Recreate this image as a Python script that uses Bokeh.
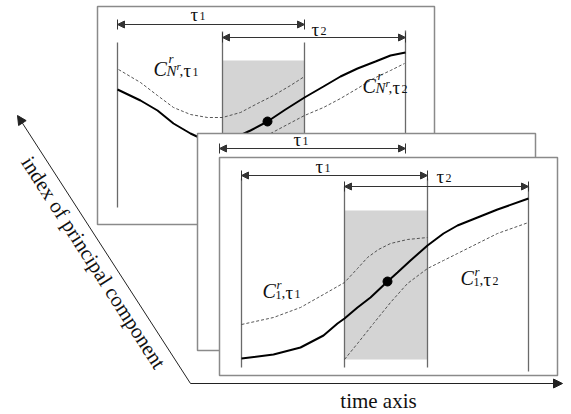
import numpy as np
from bokeh.plotting import figure
from bokeh.models import Range1d, Arrow, NormalHead, ColumnDataSource
from bokeh.core.properties import value
from bokeh.embed import file_html
from bokeh.resources import INLINE

W, H = 571, 414
SERIF = value("Liberation Serif")

# ---- panels (back, middle, front): left, right, top, bottom in page pixels
panel_left = [97, 197, 219]
panel_right = [434, 535, 557]
panel_top = [6, 133, 157]
panel_bottom = [224, 350, 375]

# ---- back panel (principal component N^r)
b_solid_x = [117, 140, 157, 173, 190, 205, 222, 235, 250, 267, 285, 304, 323, 340, 357, 375, 390, 405]
b_solid_y = [89, 100, 110, 123, 133, 140, 141, 137, 130, 121, 109, 97, 86, 76, 68, 61, 55, 52]
b_dash1_x = [118, 140, 157, 173, 190, 207, 222, 240, 257, 273, 290, 304]
b_dash1_y = [69, 82, 95, 107, 114, 117, 117, 112, 103, 95, 85, 76]
b_dash2_x = [222, 250, 270, 304, 323, 340, 357, 373, 390, 404]
b_dash2_y = [160, 145, 133, 115, 107, 98, 88, 78, 70, 63]
b_dot = (267, 121)

# ---- front panel (principal component 1)
f_solid_x = [241, 273, 300, 323, 337, 344, 357, 370, 387, 397, 410, 427, 443, 457, 477, 497, 528]
f_solid_y = [358, 354, 347, 335, 323, 318, 307, 297, 281, 272, 260, 245, 233, 225, 217, 209, 198]
f_dash1_x = [241, 273, 300, 323, 344, 357, 367, 378, 390, 407, 427]
f_dash1_y = [324, 317, 307, 294, 282, 268, 257, 249, 243, 239, 237]
f_dash2_x = [344, 357, 373, 390, 407, 427, 443, 457, 477, 497, 528]
f_dash2_y = [359, 343, 323, 302, 283, 268, 260, 253, 243, 233, 222]
f_dot = (387, 281)

p = figure(width=W, height=H, x_range=Range1d(0, W), y_range=Range1d(H, 0),
           output_backend="svg", toolbar_location=None,
           x_axis_location=None, y_axis_location=None, min_border=0)
p.grid.visible = False
p.outline_line_color = None
p.background_fill_color = "white"

PANEL_COL = "#8a8a8a"
VLINE_COL = "#6a6a6a"
GRAY = "#d4d4d4"
ARROW_COL = "#333333"
TXT = "#111111"


def panel(i):
    p.quad(left=[panel_left[i]], right=[panel_right[i]], top=[panel_top[i]],
           bottom=[panel_bottom[i]], fill_color="white", line_color=PANEL_COL, line_width=1.5)


def dim_arrow(x0, x1, y):
    p.add_layout(Arrow(x_start=x0, y_start=y, x_end=x1, y_end=y,
                       start=NormalHead(size=7, fill_color=ARROW_COL, line_color=ARROW_COL),
                       end=NormalHead(size=7, fill_color=ARROW_COL, line_color=ARROW_COL),
                       line_color=ARROW_COL, line_width=1))
    p.segment(x0=[x0, x1], y0=[y - 5, y - 5], x1=[x0, x1], y1=[y + 5, y + 5],
              line_color=ARROW_COL, line_width=1)


def vlines(xs, y0s, y1s, col=VLINE_COL):
    p.segment(x0=xs, y0=y0s, x1=xs, y1=y1s, line_color=col, line_width=1.3)


def texts(x0, yb, parts):
    # the anchor is rendered at the centre of the em box: shift it up from the baseline
    src = ColumnDataSource(dict(
        x=[x0 + a[0] for a in parts],
        y=[yb + a[1] - 0.3375 * a[3] for a in parts],
        t=[a[2] for a in parts], s=["%.1fpx" % a[3] for a in parts],
        st=[a[4] for a in parts]))
    p.text(x="x", y="y", text="t", text_font_size="s", text_font_style="st",
           text_font=SERIF, text_baseline="alphabetic", text_align="left",
           text_color=TXT, source=src)


def tau(x0, yb, k):
    texts(x0, yb, [(0, 0, "τ", 19, "normal"), (9, 0, k, 12, "normal")])


def full_c(x0, yb, sub, k):
    if sub == "N":
        parts = [(0, 0, "C", 20, "italic"), (15, -13, "r", 13, "italic"),
                 (13, 1, "N", 15, "italic"), (23, -6, "r", 11, "italic")]
        off = 26
    else:
        parts = [(0, 0, "C", 20, "italic"), (14, -9, "r", 13, "italic"),
                 (13, 2, "1", 12, "normal")]
        off = 19
    parts += [(off, 1, ",", 15, "normal"), (off + 4, 1, "τ", 19, "normal"),
              (off + 13, 1, k, 12, "normal")]
    texts(x0, yb, parts)


# ===== back panel =====
panel(0)
p.quad(left=[222], right=[304], top=[60], bottom=[200], fill_color=GRAY, line_color=None)
vlines([117, 222, 304, 405], [42, 31, 42, 30], [207, 220, 220, 220])
p.line(b_dash1_x, b_dash1_y, line_color="#444444", line_width=0.9, line_dash="3 2")
p.line(b_dash2_x, b_dash2_y, line_color="#444444", line_width=0.9, line_dash="3 2")
p.line(b_solid_x, b_solid_y, line_color="black", line_width=2)
p.scatter([b_dot[0]], [b_dot[1]], size=9, color="black")
dim_arrow(117, 304, 24)
dim_arrow(222, 405, 37)
tau(190, 20, "1")
tau(311, 35, "2")
full_c(153, 75, "N", "1")
full_c(362, 92, "N", "2")

# ===== middle panel =====
panel(1)
dim_arrow(219, 405, 148)
tau(293, 145, "1")

# ===== front panel =====
panel(2)
p.quad(left=[344], right=[427], top=[210], bottom=[359], fill_color=GRAY, line_color=None)
vlines([241, 344, 427, 528], [178, 186, 178, 186], [367, 367, 367, 371])
p.line(f_dash1_x, f_dash1_y, line_color="#444444", line_width=0.9, line_dash="3 2")
p.line(f_dash2_x, f_dash2_y, line_color="#444444", line_width=0.9, line_dash="3 2")
p.line(f_solid_x, f_solid_y, line_color="black", line_width=2)
p.scatter([f_dot[0]], [f_dot[1]], size=9, color="black")
dim_arrow(241, 427, 175)
dim_arrow(344, 528, 186)
tau(315, 172, "1")
tau(436, 182, "2")
full_c(262, 297, "1", "1")
full_c(460, 284, "1", "2")

# ===== axes =====
AX = "#222222"
p.add_layout(Arrow(x_start=190, y_start=383, x_end=17, y_end=115,
                   end=NormalHead(size=9, fill_color=AX, line_color=AX), line_color=AX, line_width=1))
p.add_layout(Arrow(x_start=190, y_start=383, x_end=562, y_end=383,
                   end=NormalHead(size=9, fill_color=AX, line_color=AX), line_color=AX, line_width=1))
p.text(x=[378], y=[400], text=["time axis"], text_font=SERIF, text_font_size="21px",
       text_align="center", text_baseline="middle", text_color=TXT)
p.text(x=[93], y=[262], text=["index of principal component"], text_font=SERIF,
       text_font_size="21px", angle=-np.deg2rad(57.2), text_align="center",
       text_baseline="middle", text_color=TXT)

open("out.html", "w").write(file_html(p, INLINE))
